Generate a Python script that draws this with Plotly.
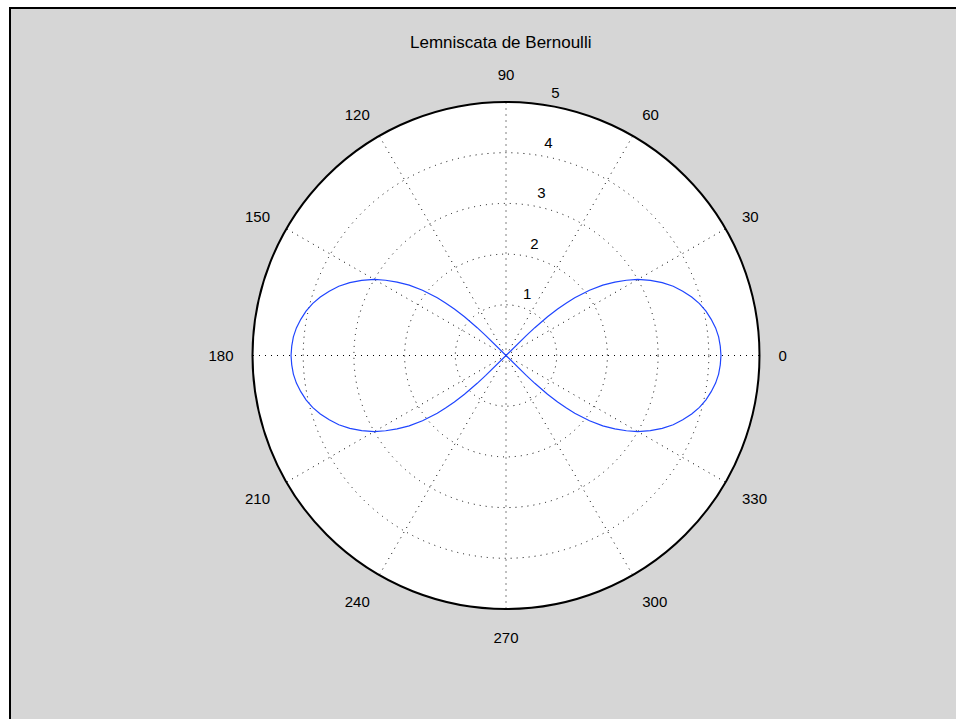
import plotly.graph_objects as go

TITLE = "Lemniscata de Bernoulli"

# right lobe (degrees), traced from 45 down to -45
THETA_RIGHT = [45, 44.5, 44, 43, 42, 41, 40, 38, 36, 34, 32, 30, 27.5, 25, 22.5, 20, 17.5, 15, 12.5, 10, 7.5, 5, 2.5, 0,
               -2.5, -5, -7.5, -10, -12.5, -15, -17.5, -20, -22.5, -25, -27.5, -30, -32, -34, -36, -38, -40, -41, -42, -43, -44, -44.5, -45]
R_RIGHT = [0.0, 0.56, 0.79, 1.12, 1.37, 1.58, 1.77, 2.09, 2.36, 2.59, 2.80, 3.00, 3.21, 3.40, 3.57, 3.71, 3.84, 3.95, 4.04, 4.11, 4.17, 4.21, 4.23, 4.24,
           4.23, 4.21, 4.17, 4.11, 4.04, 3.95, 3.84, 3.71, 3.57, 3.40, 3.21, 3.00, 2.80, 2.59, 2.36, 2.09, 1.77, 1.58, 1.37, 1.12, 0.79, 0.56, 0.0]

# left lobe (degrees), traced from 135 to 225
THETA_LEFT = [135, 135.5, 136, 137, 138, 139, 140, 142, 144, 146, 148, 150, 152.5, 155, 157.5, 160, 162.5, 165, 167.5, 170, 172.5, 175, 177.5, 180,
              182.5, 185, 187.5, 190, 192.5, 195, 197.5, 200, 202.5, 205, 207.5, 210, 212, 214, 216, 218, 220, 221, 222, 223, 224, 224.5, 225]
R_LEFT = [0.0, 0.56, 0.79, 1.12, 1.37, 1.58, 1.77, 2.09, 2.36, 2.59, 2.80, 3.00, 3.21, 3.40, 3.57, 3.71, 3.84, 3.95, 4.04, 4.11, 4.17, 4.21, 4.23, 4.24,
          4.23, 4.21, 4.17, 4.11, 4.04, 3.95, 3.84, 3.71, 3.57, 3.40, 3.21, 3.00, 2.80, 2.59, 2.36, 2.09, 1.77, 1.58, 1.37, 1.12, 0.79, 0.56, 0.0]

ANGLE_TICKS = [0, 30, 60, 90, 120, 150, 180, 210, 240, 270, 300, 330]
ANGLE_LABELS = [str(a) for a in ANGLE_TICKS]
RADIAL_TICKS = [1, 2, 3, 4, 5]
RADIAL_LABELS = ["1", "2", "3", "4", "5"]
R_MAX = 5
LABEL_SHIFT = 0.3  # radial labels sit a little beyond their rings

W, H = 956, 719
FONT = "Liberation Sans, Arial, sans-serif"
TICK_SIZE = 15

fig = go.Figure()
fig.add_trace(go.Scatterpolar(
    r=R_RIGHT + R_LEFT,
    theta=THETA_RIGHT + THETA_LEFT,
    mode="lines",
    line=dict(color="#1f45ff", width=1.2),
    showlegend=False,
    hoverinfo="skip",
    subplot="polar",
))
# carrier for the radial tick labels overlay
fig.add_trace(go.Scatterpolar(r=[], theta=[], mode="lines", showlegend=False,
                              hoverinfo="skip", subplot="polar2"))

cx, cy, rad = 506, 355.5, 253.5
rad2 = rad * (R_MAX + LABEL_SHIFT) / R_MAX


def dom(r):
    return dict(x=[(cx - r) / W, (cx + r) / W], y=[1 - (cy + r) / H, 1 - (cy - r) / H])


fig.update_layout(
    width=W, height=H,
    margin=dict(l=0, r=0, t=0, b=0),
    paper_bgcolor="white",
    font=dict(family=FONT, size=TICK_SIZE, color="black"),
    polar=dict(
        domain=dom(rad),
        bgcolor="white",
        angularaxis=dict(
            direction="counterclockwise", rotation=0,
            tickmode="array", tickvals=ANGLE_TICKS, ticktext=ANGLE_LABELS,
            ticks="outside", ticklen=15, tickcolor="rgba(0,0,0,0)",
            showline=True, linecolor="black", linewidth=2,
            showgrid=True, gridcolor="black", gridwidth=1, griddash="1px,5px",
            tickfont=dict(family=FONT, size=TICK_SIZE, color="black"),
        ),
        radialaxis=dict(
            range=[0, R_MAX], angle=80,
            tickmode="array", tickvals=RADIAL_TICKS, ticktext=RADIAL_LABELS,
            showline=False, ticks="", showticklabels=False,
            showgrid=True, gridcolor="black", gridwidth=1, griddash="1px,5px",
        ),
    ),
    polar2=dict(
        domain=dom(rad2),
        bgcolor="rgba(0,0,0,0)",
        angularaxis=dict(visible=False, direction="counterclockwise", rotation=0),
        radialaxis=dict(
            range=[-LABEL_SHIFT, R_MAX], angle=82,
            tickmode="array", tickvals=RADIAL_TICKS, ticktext=RADIAL_LABELS,
            showline=False, ticks="", showgrid=False,
            tickfont=dict(family=FONT, size=TICK_SIZE, color="black"),
            tickangle=82,
        ),
    ),
    shapes=[dict(type="rect", xref="paper", yref="paper",
                 x0=10 / W, x1=1.05, y0=-0.05, y1=1 - 8 / H,
                 fillcolor="#d6d6d6", line=dict(color="black", width=2), layer="below")],
    annotations=[dict(text=TITLE, xref="paper", yref="paper", x=500 / W, y=1 - 43 / H,
                      showarrow=False, xanchor="center", yanchor="middle",
                      font=dict(family=FONT, size=17, color="black"))],
)

fig.write_html("out.html", config={"displayModeBar": False},
               post_script="document.body.style.margin='0';document.body.style.overflow='hidden';")
